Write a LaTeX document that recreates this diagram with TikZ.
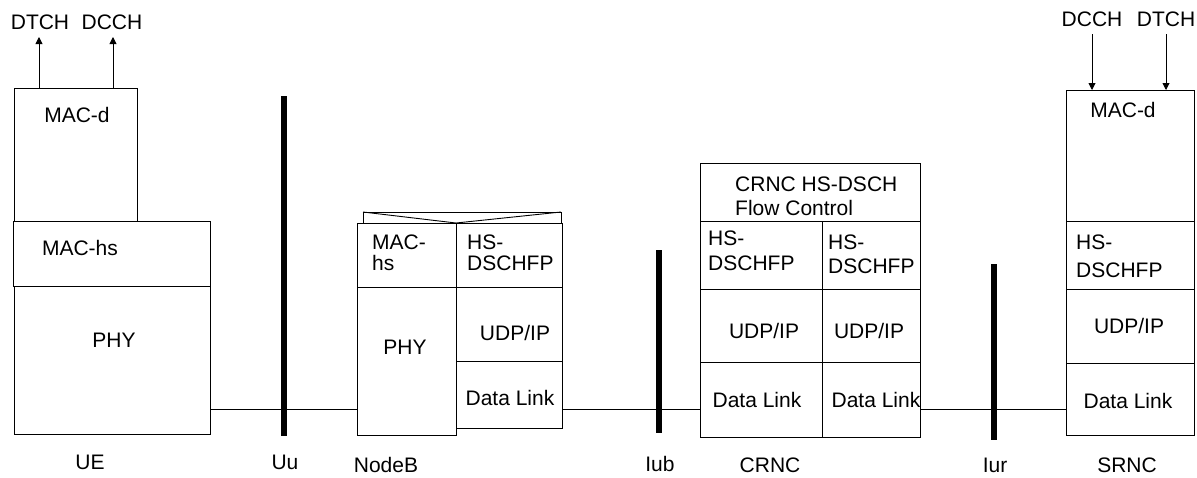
\documentclass[tikz,border=0pt]{standalone}
\usepackage{fontspec}
\setmainfont{Liberation Sans}
\usetikzlibrary{arrows.meta}
\tikzset{
  blk/.style={draw, line width=0.9pt, inner sep=0pt, outer sep=0pt, anchor=north west},
  txt/.style={inner sep=0pt, font=\fontsize{21}{23}\selectfont},
  txtc/.style={txt, anchor=base},
  txtml/.style={txt, anchor=north west, align=left},
  wire/.style={line width=0.9pt},
  ifbar/.style={line width=5.5pt},
  chan/.style={line width=0.9pt, -{Triangle[length=7pt,width=7pt]}},
}
\newcommand\mkbox[5]{\path (#2,#3) node[blk, minimum width={(#4-#2)*1pt}, minimum height={(#5-#3)*1pt}] (#1) {};}
\begin{document}
\begin{tikzpicture}[x=1pt,y=-1pt]
\useasboundingbox (0,0) rectangle (1197,477);
% ---------- UE ----------
\mkbox{uemacd}{14}{88}{137}{221}
\mkbox{uemachs}{13}{221}{210}{286}
\mkbox{uephy}{14}{286}{210}{434}
\node[txtc] (t-uemacd) at (77,122) {MAC-d};
\node[txtc] (t-uemachs) at (80,255) {MAC-hs};
\node[txtc] (t-uephy) at (114,347) {PHY};
\node[txtc] (t-uedtch) at (40,29) {DTCH};
\node[txtc] (t-uedcch) at (112,29) {DCCH};
\coordinate (ua1) at (39,37);
\coordinate (ua2) at (113,37);
\draw[chan] (uemacd.north west -| ua1) -- (ua1);
\draw[chan] (uemacd.north west -| ua2) -- (ua2);
% ---------- NodeB ----------
\mkbox{nbmachs}{357}{223}{456}{287}
\mkbox{nbfp}{456}{223}{562}{287}
\mkbox{nbphy}{357}{287}{456}{435}
\mkbox{nbudp}{456}{287}{562}{361}
\mkbox{nbdl}{456}{361}{562}{428}
\coordinate (env1) at (363,212);
\coordinate (env2) at (561,212);
\draw[wire] (363,223) -- (env1) -- (env2) -- (561,223);
\draw[wire] (env1) -- (nbfp.north west) -- (env2);
\node[txtml, font=\fontsize{21}{21}\selectfont] (t-nbmachs) at (372,235) {MAC-\\hs};
\node[txtml, font=\fontsize{21}{21}\selectfont] (t-nbfp) at (467,235) {HS-\\DSCHFP};
\node[txtc] (t-nbphy) at (405,354) {PHY};
\node[txtc] (t-nbudp) at (515,340) {UDP/IP};
\node[txtc] (t-nbdl) at (510,405) {Data Link};
% ---------- CRNC ----------
\mkbox{cfc}{700}{163}{920}{221}
\mkbox{cfp1}{700}{221}{822}{289}
\mkbox{cfp2}{822}{221}{920}{289}
\mkbox{cudp1}{700}{289}{822}{362}
\mkbox{cudp2}{822}{289}{920}{362}
\mkbox{cdl1}{700}{362}{822}{437}
\mkbox{cdl2}{822}{362}{920}{437}
\node[txtml, font=\fontsize{21}{24}\selectfont] (t-cfc) at (735,177) {CRNC HS-DSCH\\Flow Control};
\node[txtml, font=\fontsize{21}{25}\selectfont] (t-cfp1) at (708,231) {HS-\\DSCHFP};
\node[txtml, font=\fontsize{21}{24}\selectfont] (t-cfp2) at (828,235) {HS-\\DSCHFP};
\node[txtc] (t-cudp1) at (764,338) {UDP/IP};
\node[txtc] (t-cudp2) at (869,338) {UDP/IP};
\node[txtc] (t-cdl1) at (757,407) {Data Link};
\node[txtc] (t-cdl2) at (876,407) {Data Link};
% ---------- SRNC ----------
\mkbox{smacd}{1066}{90}{1194}{221}
\mkbox{sfp}{1066}{221}{1194}{289}
\mkbox{sudp}{1066}{289}{1194}{363}
\mkbox{sdl}{1066}{363}{1194}{435}
\node[txtc] (t-smacd) at (1123,117) {MAC-d};
\node[txtml, font=\fontsize{21}{28}\selectfont] (t-sfp) at (1076,235) {HS-\\DSCHFP};
\node[txtc] (t-sudp) at (1129,333) {UDP/IP};
\node[txtc] (t-sdl) at (1128,408) {Data Link};
\node[txtc] (t-sdcch) at (1092,26) {DCCH};
\node[txtc] (t-sdtch) at (1166,26) {DTCH};
\coordinate (sa1) at (1092,34);
\coordinate (sa2) at (1166,34);
\draw[chan] (sa1) -- (smacd.north west -| sa1);
\draw[chan] (sa2) -- (smacd.north west -| sa2);
% ---------- links ----------
\coordinate (lk) at (0,409);
\draw[wire] (uephy.east |- lk) -- (nbphy.west |- lk);
\draw[wire] (nbdl.east |- lk) -- (cdl1.west |- lk);
\draw[wire] (cdl2.east |- lk) -- (sdl.west |- lk);
% ---------- interface bars ----------
\coordinate (uu1) at (284,96);  \coordinate (uu2) at (284,436);
\coordinate (iub1) at (659,250); \coordinate (iub2) at (659,433);
\coordinate (iur1) at (994,264); \coordinate (iur2) at (994,440);
\draw[ifbar] (uu1) -- (uu2);
\draw[ifbar] (iub1) -- (iub2);
\draw[ifbar] (iur1) -- (iur2);
% ---------- bottom labels ----------
\node[txtc] (l-ue) at (90,469) {UE};
\node[txtc] (l-uu) at (285,469) {Uu};
\node[txtc] (l-nb) at (386,472) {NodeB};
\node[txtc] (l-iub) at (660,471) {Iub};
\node[txtc] (l-crnc) at (770,472) {CRNC};
\node[txtc] (l-iur) at (995,472) {Iur};
\node[txtc] (l-srnc) at (1127,472) {SRNC};
\end{tikzpicture}
\end{document}
